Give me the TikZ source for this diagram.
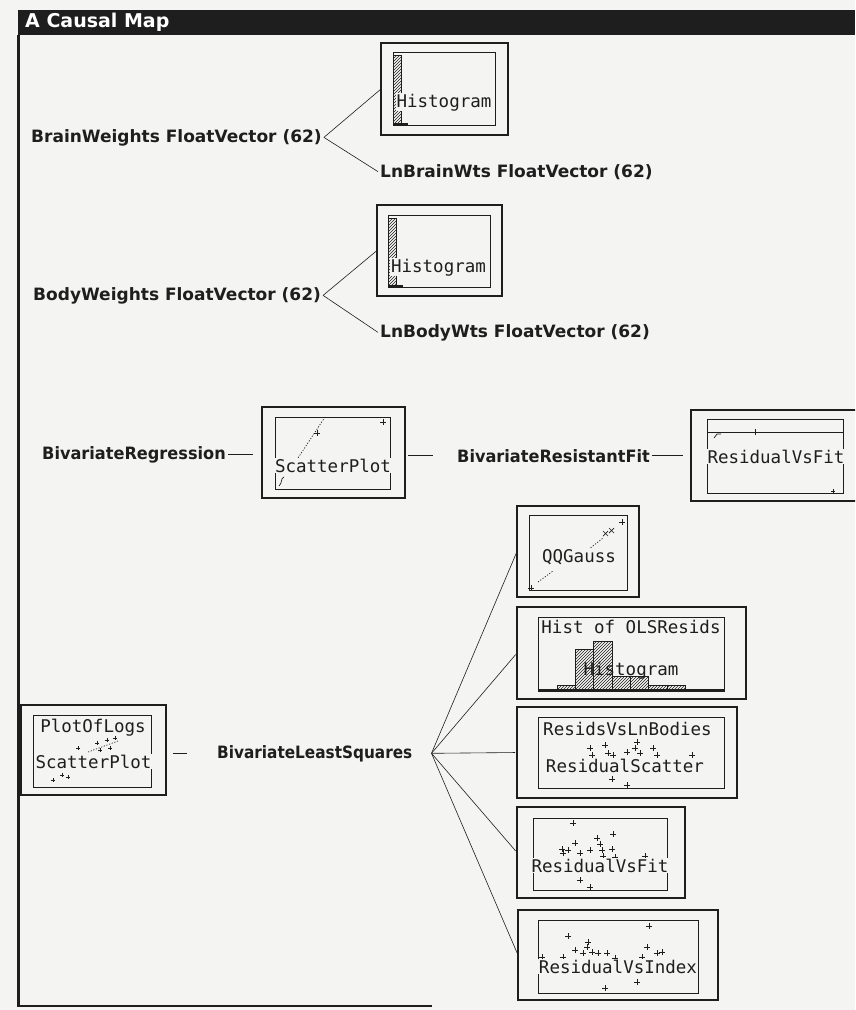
\documentclass[tikz,border=0pt]{standalone}
\usepackage{fontspec}
\usetikzlibrary{patterns}
\newfontfamily\labelfont{DejaVu Sans}
\newfontfamily\methodfont{DejaVu Sans}[FakeStretch=0.95]
\newfontfamily\narrowfont{DejaVu Sans}[FakeStretch=0.9]
\newfontfamily\monofont{DejaVu Sans Mono}
\newfontfamily\titlefont{DejaVu Sans}
\definecolor{inkc}{HTML}{1E1E1E}
\definecolor{paper}{HTML}{F4F4F2}

% a view panel: name, left, top, right, bottom
\newcommand\mappanel[5]{\node[outerbox, anchor=north west,
  minimum width={#4-#2}, minimum height={#5-#3}] (#1) at (#2,#3) {};}
% the plot frame inside a panel
\newcommand\plotframe[4]{\draw[innerbox] (#1,#2) rectangle (#3,#4);}

\begin{document}
\begin{tikzpicture}[x=1pt, y=-1pt,
  outerbox/.style={draw=inkc, line width=1.4pt, inner sep=0pt, outer sep=0pt},
  innerbox/.style={draw=inkc, line width=0.9pt},
  lbl/.style={font=\labelfont\bfseries\fontsize{17}{20}\selectfont, text=inkc,
    inner ysep=0pt, inner xsep=2pt, anchor=base west},
  mlbl/.style={lbl, font=\methodfont\bfseries\fontsize{17}{20}\selectfont},
  nlbl/.style={lbl, font=\narrowfont\bfseries\fontsize{17}{20}\selectfont},
  mono/.style={font=\monofont\fontsize{17.5}{20}\selectfont, text=inkc,
    inner sep=0.6pt, fill=paper, anchor=base},
  monoclear/.style={mono, fill=none},
  link/.style={draw=inkc, line width=0.6pt},
  bar/.style={draw=inkc, line width=0.8pt, pattern=north east lines, pattern color=inkc},
  trace/.style={draw=inkc, line width=0.7pt, dash pattern=on 1.2pt off 1.6pt},
  pmark/.pic={\draw[inkc, line width=0.8pt] (-3,0) -- (3,0) (0,-3) -- (0,3);},
  smark/.pic={\draw[inkc, line width=0.7pt] (-2,0) -- (2,0) (0,-2) -- (0,2);}
]
\useasboundingbox (0,0) rectangle (855,1010);
\clip (0,0) rectangle (855,1010);
\fill[paper] (0,0) rectangle (855,1010);

% window: title bar and frame
\fill[inkc] (18,10) rectangle (855,35);
\node[anchor=west, text=white, inner sep=0pt,
  font=\titlefont\bfseries\fontsize{19}{22}\selectfont] (title) at (25,22.5) {A Causal Map};
\draw[inkc, line width=3pt] (18.5,35) -- (18.5,1006);
\draw[inkc, line width=2pt] (17,1006) -- (432,1006);

% ---------------- data vectors ----------------
\node[lbl] (bw)   at (29,142)  {BrainWeights FloatVector (62)};
\node[lbl] (lnbw) at (378,177) {LnBrainWts FloatVector (62)};
\node[lbl] (dw)   at (31,300)  {BodyWeights FloatVector (62)};
\node[lbl] (lndw) at (378,337) {LnBodyWts FloatVector (62)};

% histogram of LnBrainWts
\mappanel{h1}{381}{43}{508}{135}
\plotframe{393}{52}{495}{125}
\draw[bar] (393,55) rectangle (401,123);
\draw[inkc, line width=1.6pt] (393,124) -- (408,124);
\node[mono] (h1t) at (444,107) {Histogram};

% histogram of LnBodyWts
\mappanel{h2}{377}{205}{502}{296}
\plotframe{388}{215}{490}{287}
\draw[bar] (388,218) rectangle (396,285);
\draw[inkc, line width=1.6pt] (388,286) -- (403,286);
\node[mono] (h2t) at (438.5,272) {Histogram};

\draw[link] (bw.east) -- (h1.west);
\draw[link] (bw.east) -- (lnbw.west);
\draw[link] (dw.east) -- (h2.west);
\draw[link] (dw.east) -- (lndw.west);

% ---------------- regression row ----------------
\node[mlbl] (breg) at (40,459)  {BivariateRegression};
\node[mlbl] (bres) at (455,462) {BivariateResistantFit};

\mappanel{sp}{262}{407}{405}{498}
\plotframe{275}{417}{390}{489}
\draw[trace] (325,417) -- (298,458);
\pic at (383,422) {pmark};
\pic at (317,433) {pmark};
\draw[inkc, line width=0.7pt] (279,486) .. controls (283,482) and (280,479) .. (284,477);
\node[mono] (spt) at (333,472) {ScatterPlot};

\mappanel{rvf}{691}{410}{870}{501}
\plotframe{707}{419}{843}{493}
\draw[innerbox] (707,432) -- (843,432);
\pic at (755,432) {pmark};
\draw[inkc, line width=0.7pt] (714,438) -- (717,434) -- (721,434);
\pic at (833,491) {smark};
\node[mono] (rvft) at (776,463) {ResidualVsFit};

\draw[link, shorten >=9pt] (breg.east) -- (breg.east -| sp.west);
\draw[link, shorten <=3pt, shorten >=22pt] (sp.east |- bres.west) -- (bres.west);
\draw[link, shorten >=8pt] (bres.east) -- (bres.east -| rvf.west);

% ---------------- least squares row ----------------
\node[nlbl] (bls) at (215,758) {BivariateLeastSquares};
\coordinate (fan) at ([xshift=17pt]bls.east);

\mappanel{plog}{21}{705}{166}{795}
\plotframe{33}{715}{151}{787}
\node[mono] (plogt) at (93,732) {PlotOfLogs};
\foreach \p in {(78,748),(97,743),(107,740),(115,738),(100,750),(110,748)}
  \pic at \p {smark};
\foreach \p in {(53,780),(62,775),(68,777)}
  \pic at \p {smark};
\draw[trace] (88,752) -- (118,741);
\node[mono] (plogs) at (93.5,768) {ScatterPlot};

\draw[link, shorten <=7pt, shorten >=28pt] (plog.east |- bls.west) -- (bls.west);

% QQ plot of residuals
\mappanel{qq}{517}{506}{639}{597}
\plotframe{529}{515}{627}{590}
\pic at (622,522) {pmark};
\pic at (531,588) {pmark};
\draw[inkc, line width=0.7pt] (609,528) -- (614,533) (614,528) -- (609,533)
  (603,531) -- (608,536) (608,531) -- (603,536);
\draw[trace] (584,553) -- (603,538);
\draw[trace] (538,582) -- (553,571);
\node[mono] (qqt) at (579,562) {QQGauss};

% histogram of residuals
\mappanel{hist}{517}{607}{746}{699}
\plotframe{538}{617}{724}{691}
\draw[bar] (557,685) rectangle (575,690);
\draw[bar] (575,649) rectangle (593,690);
\draw[bar] (593,641) rectangle (612,690);
\draw[bar] (612,676) rectangle (630,690);
\draw[bar] (630,676) rectangle (648,690);
\draw[bar] (648,685) rectangle (667,690);
\draw[bar] (667,685) rectangle (685,690);
\draw[inkc, line width=2pt] (538,690) -- (724,690);
\node[mono] (histt) at (631,633) {Hist of OLSResids};
\node[monoclear] (histh) at (631,675) {Histogram};

% residuals against log body weights
\mappanel{rsl}{517}{707}{737}{798}
\plotframe{538}{717}{724}{788}
\node[mono] (rslt) at (627.5,735) {ResidsVsLnBodies};
\foreach \p in {(590,748),(592,755),(605,745),(608,753),(613,755),(627,752),
  (635,748),(637,742),(640,753),(653,748),(657,755),(692,755),(612,779),(627,785)}
  \pic at \p {pmark};
\node[mono] (rsls) at (625,772) {ResidualScatter};

% residuals against fitted values
\mappanel{rvf2}{517}{807}{685}{898}
\plotframe{533}{818}{667}{890}
\foreach \p in {(573,823),(613,834),(597,838),(600,844),(575,843),(562,849),
  (563,853),(568,850),(580,853),(590,850),(602,850),(612,849),(603,856),
  (615,857),(645,856),(580,880),(590,887)}
  \pic at \p {pmark};
\node[mono] (rvf2t) at (600,872) {ResidualVsFit};

% residuals against index
\mappanel{rvi}{518}{910}{718}{1000}
\plotframe{538}{920}{698}{993}
\foreach \p in {(649,926),(568,936),(588,942),(587,947),(575,950),(583,953),
  (592,952),(598,953),(607,953),(615,958),(647,947),(657,953),(662,952),
  (642,957),(542,957),(563,957),(637,982),(605,988)}
  \pic at \p {pmark};
\node[mono] (rvit) at (618,973) {ResidualVsIndex};

% fan of views from the least squares fit
\foreach \v in {qq, hist, rsl, rvf2, rvi}
  \draw[link, shorten >=2pt] (fan) -- (\v.west);
\end{tikzpicture}
\end{document}
